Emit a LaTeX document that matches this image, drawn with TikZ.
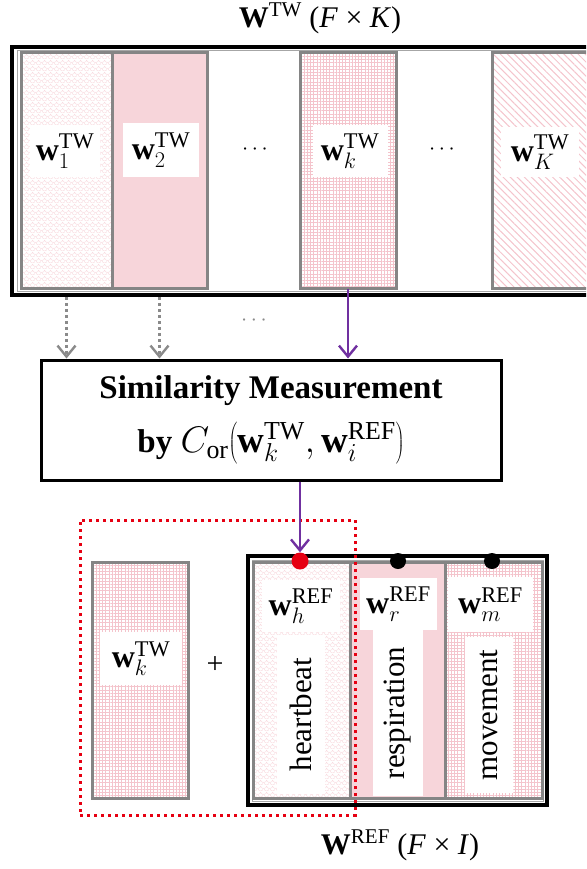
\RequirePackage{fix-cm}
\documentclass[tikz,border=0pt]{standalone}
\usepackage{fontspec}
\setmainfont{Liberation Serif}
\usetikzlibrary{arrows.meta,patterns,patterns.meta}

\definecolor{pinkfill}{HTML}{F7D5DA}
\definecolor{pinkline}{HTML}{F0B0BB}
\definecolor{colgray}{HTML}{858585}
\definecolor{arrgray}{HTML}{8A8A8A}
\definecolor{vio}{HTML}{7030A0}
\definecolor{dotred}{HTML}{E60012}

% small scalloped texture used for the heartbeat-like columns
\pgfdeclarepattern{
  name=scallops,
  type=uncolored,
  bottom left={\pgfpoint{0pt}{0pt}},
  top right={\pgfpoint{6pt}{6pt}},
  tile size={\pgfpoint{6pt}{6pt}},
  code={
    \pgfsetlinewidth{0.5pt}
    \pgfpathmoveto{\pgfpoint{0pt}{3pt}}
    \pgfpatharc{180}{360}{3pt}
    \pgfpathmoveto{\pgfpoint{-3pt}{6pt}}
    \pgfpatharc{180}{360}{3pt}
    \pgfpathmoveto{\pgfpoint{3pt}{6pt}}
    \pgfpatharc{180}{360}{3pt}
    \pgfusepath{stroke}
  }
}

\tikzset{
  frame/.style={draw=black, line width=3.5pt, inner sep=0pt},
  inframe/.style={draw=black!35, line width=1pt, inner sep=0pt},
  col/.style={draw=colgray, line width=3pt, inner sep=0pt, minimum width=#1, minimum height=236pt},
  scal/.style={pattern={scallops}, pattern color=pinkline!45},
  grid/.style={pattern={Hatch[distance=3.2pt, angle=0, line width=0.35pt]}, pattern color=pinkline!75},
  hatchd/.style={pattern={Lines[distance=5pt, angle=-45, line width=1pt]}, pattern color=pinkline!75},
  solid pink/.style={fill=pinkfill},
  lab/.style={fill=white, inner sep=0pt, font=\fontsize{32}{34}\selectfont},
  word/.style={fill=white, inner sep=0pt, rotate=90, font=\fontsize{31}{33}\selectfont},
  ttl/.style={inner sep=0pt, font=\fontsize{30}{32}\selectfont},
  ell/.style={inner sep=0pt, text=arrgray, font=\fontsize{22}{24}\selectfont},
  garrow/.style={draw=arrgray, line width=3pt, dash pattern=on 3pt off 3pt,
    -{Straight Barb[length=11pt, width=18pt, line width=2.4pt]}},
  parrow/.style={draw=vio, line width=2.5pt,
    -{Straight Barb[length=11pt, width=18pt, line width=2.4pt]}},
  knot/.style={circle, inner sep=0pt, minimum size=#1},
}

\begin{document}
\begin{tikzpicture}[x=1pt,y=-1pt]
\useasboundingbox (0,0) rectangle (586,869);
\clip (0,0) rectangle (586,869);

% ---- time-window basis matrix ----
\node[ttl] (twtitle) at (320,18) {$\mathbf{W}^{\mathrm{TW}}$ (\textit{F} × \textit{K})};
\node[frame, minimum width=580pt, minimum height=248pt] (twbox) at (302,171) {};
\node[inframe, minimum width=571pt, minimum height=240pt] (twin) at (302.5,171) {};

\node[col=91pt, scal] (c1) at (66.5,170.5) {};
\node[col=95pt, solid pink] (c2) at (159.5,170.5) {};
\node[col=96pt, grid] (ck) at (348,170.5) {};
\node[col=98pt, hatchd] (cK) at (541,170.5) {};

\node[lab, minimum width=70pt, minimum height=52pt] (l1) at (65,151) {$\mathbf{w}_1^{\mathrm{TW}}$};
\node[lab, minimum width=76pt, minimum height=54pt] (l2) at (161,150) {$\mathbf{w}_2^{\mathrm{TW}}$};
\node[lab, minimum width=75pt, minimum height=52pt] (lk) at (350,151) {$\mathbf{w}_k^{\mathrm{TW}}$};
\node[lab, minimum width=78pt, minimum height=50pt] (lK) at (540,152) {$\mathbf{w}_K^{\mathrm{TW}}$};

\node[ell, text=black] (e1) at (255,150) {$\cdots$};
\node[ell, text=black] (e2) at (442,150) {$\cdots$};

% ---- similarity block ----
\node[frame, line width=3pt, minimum width=460pt, minimum height=120pt,
      align=center, font=\fontsize{33}{54}\selectfont] (sim) at (271,420)
  {\textbf{Similarity Measurement}\\
   \textbf{by} {\fontsize{37}{54}\selectfont$C_{\mathrm{or}}\!\left(\mathbf{w}_k^{\mathrm{TW}},\mathbf{w}_i^{\mathrm{REF}}\right)$}};

\draw[garrow] (c1.south |- twbox.south) -- (c1.south |- sim.north);
\draw[garrow] (c2.south |- twbox.south) -- (c2.south |- sim.north);
\draw[parrow] (ck.south) -- (ck.south |- sim.north);
\node[ell] (emid) at (254,321) {$\cdots$};

% ---- selected window and reference basis ----
\node[col=96pt, grid] (bk) at (140,680) {};
\node[lab, minimum width=82pt, minimum height=53pt] (lbk) at (141,658.5) {$\mathbf{w}_k^{\mathrm{TW}}$};
\node[ttl] (plus) at (215,665) {+};

\node[frame, minimum width=299pt, minimum height=249pt] (refbox) at (397.5,680.5) {};
\node[inframe, minimum width=291pt, minimum height=241pt] (refin) at (397.5,680.5) {};

\node[col=97pt, scal] (ch) at (301.5,680) {};
\node[col=95pt, solid pink] (cr) at (397.5,680) {};
\node[col=97pt, grid] (cm) at (493.5,680) {};

\node[lab, minimum width=78pt, minimum height=52pt] (lh) at (301,606) {$\mathbf{w}_h^{\mathrm{REF}}$};
\node[word, minimum width=159pt, minimum height=48pt] (th) at (301,714.5) {heartbeat};
\node[lab, minimum width=77pt, minimum height=52pt] (lr) at (398.5,604) {$\mathbf{w}_r^{\mathrm{REF}}$};
\node[word, minimum width=166pt, minimum height=50pt] (tr) at (398,713) {respiration};
\node[lab, minimum width=85pt, minimum height=55pt] (lm) at (490.5,604.5) {$\mathbf{w}_m^{\mathrm{REF}}$};
\node[word, minimum width=156pt, minimum height=48pt] (tm) at (489,715) {movement};

\node[ttl] (reftitle) at (400,845) {$\mathbf{W}^{\mathrm{REF}}$ (\textit{F} × \textit{I})};

% selection outline
\node[draw=dotred, line width=3pt, dash pattern=on 3pt off 4pt, inner sep=0pt,
      minimum width=275pt, minimum height=295pt] (sel) at (217.5,667.5) {};

% anchor points on the reference matrix
\node[knot=17pt, fill=dotred] (dh) at (300,561) {};
\node[knot=16pt, fill=black] (dr) at (398,561) {};
\node[knot=16pt, fill=black] (dm) at (492,561) {};

\draw[parrow] (dh |- sim.south) -- (dh.north);
\end{tikzpicture}
\end{document}
